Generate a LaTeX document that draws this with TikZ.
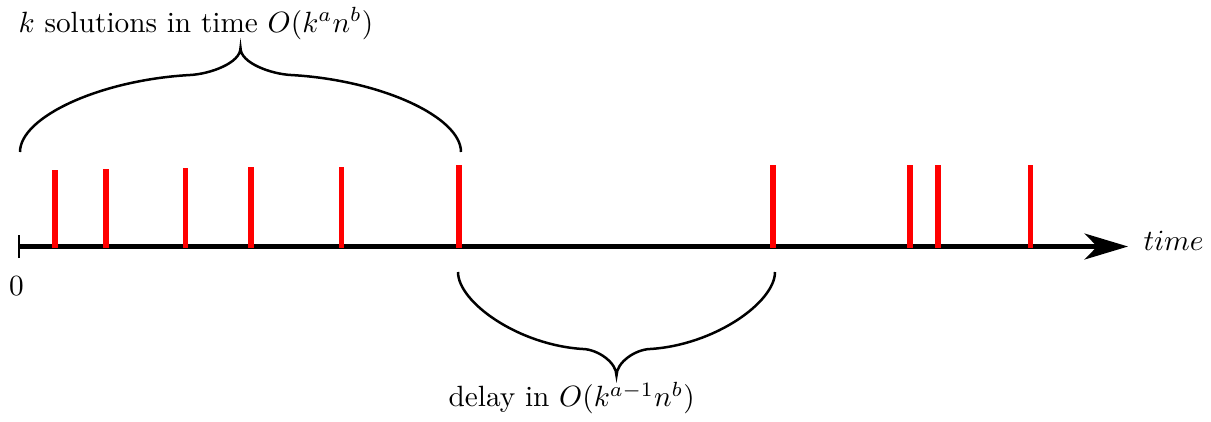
\documentclass[tikz,border=0pt]{standalone}
\usetikzlibrary{arrows.meta, positioning, calc}
\definecolor{cred}{HTML}{FF0000}
\tikzset{
  axis/.style={line width=1.7pt, {Bar[width=2.8mm, line width=0.8pt]}-{Stealth[length=5.2mm, width=3.1mm, inset=1.5mm]}},
  event/.style={draw=cred, line width=2pt},
  bracepen/.style={line width=0.85pt},
  lbl/.style={inner sep=0pt, anchor=base west},
}

\begin{document}
\begin{tikzpicture}
  \useasboundingbox (-0.216,-2.094) rectangle (14.316,2.958);
  % time axis
  \coordinate (o) at (0,0);
  \coordinate (tend) at (13.32,0);
  \draw[axis] (o) -- (tend);
  \node[lbl] (tlbl) at (13.50,-0.042) {$time$};
  \node[inner sep=0pt, anchor=base] (zero) at (-0.02,-0.59) {$0$};
  % solutions
  \foreach \x/\h [count=\i] in {0.444/0.918, 1.056/0.93, 2.01/0.948, 2.80/0.954, 3.882/0.96,
      5.292/0.978, 9.064/0.978, 10.704/0.978, 11.036/0.978, 12.15/0.978} {
    \coordinate (s\i) at (\x,-0.02);
    \draw[event] (s\i) -- (\x,\h);
  }
  % brace over the first k solutions
  \coordinate (tl) at (0.024,1.134);
  \coordinate (tlj) at (2.064,2.058);
  \coordinate (ttip) at (2.67,2.382);
  \coordinate (trj) at (3.276,2.058);
  \coordinate (tr) at (5.316,1.134);
  \draw[bracepen] (tl) .. controls +(0,0.42) and +(-1.08,-0.06) .. (tlj)
    .. controls +(0.24,0.012) and +(0,-0.18) .. (ttip)
    .. controls +(0,-0.18) and +(-0.24,0.012) .. (trj)
    .. controls +(1.08,-0.06) and +(0,0.42) .. (tr);
  \node[lbl] (sol) at (0,2.568) {$k$ solutions in time $O(k^a n^b)$};
  % brace under the delay
  \coordinate (bl) at (5.28,-0.306);
  \coordinate (blj) at (6.78,-1.23);
  \coordinate (btip) at (7.182,-1.548);
  \coordinate (brj) at (7.584,-1.23);
  \coordinate (br) at (9.084,-0.306);
  \draw[bracepen] (bl) .. controls +(0,-0.36) and +(-0.78,0.048) .. (blj)
    .. controls +(0.18,-0.006) and +(0,0.156) .. (btip)
    .. controls +(0,0.156) and +(-0.18,-0.006) .. (brj)
    .. controls +(0.78,0.048) and +(0,-0.36) .. (br);
  \node[lbl] (delay) at (5.16,-1.922) {delay in $O(k^{a-1}n^b)$};
\end{tikzpicture}
\end{document}
